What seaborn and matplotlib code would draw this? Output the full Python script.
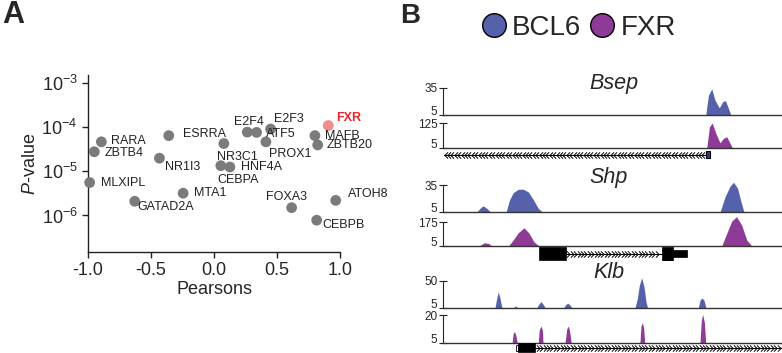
import numpy as np
import pandas as pd
import seaborn as sns
import matplotlib.pyplot as plt
from matplotlib.lines import Line2D
from matplotlib.path import Path
from matplotlib.patches import Rectangle

sns.set_style('ticks')
plt.rcParams['font.family'] = ['Liberation Sans', 'DejaVu Sans']
plt.rcParams['mathtext.fontset'] = 'custom'
plt.rcParams['mathtext.rm'] = 'Liberation Sans'
plt.rcParams['mathtext.it'] = 'Liberation Sans:italic'
plt.rcParams['mathtext.default'] = 'regular'

# ---- panel A: correlation vs p-value ----
genes = ['FXR', 'E2F3', 'E2F4', 'ATF5', 'MAFB', 'ZBTB20', 'PROX1', 'ESRRA', 'NR3C1',
         'HNF4A', 'CEBPA', 'RARA', 'ZBTB4', 'NR1I3', 'MLXIPL', 'MTA1', 'GATAD2A',
         'FOXA3', 'ATOH8', 'CEBPB']
pearson = [0.907, 0.449, 0.264, 0.338, 0.801, 0.823, 0.412, -0.359, 0.078,
           0.126, 0.054, -0.894, -0.950, -0.433, -0.987, -0.245, -0.629,
           0.616, 0.966, 0.815]
pvalue = [1.1e-4, 9.2e-5, 7.8e-5, 7.7e-5, 6.5e-5, 4.0e-5, 4.7e-5, 6.5e-5, 4.3e-5,
          1.26e-5, 1.35e-5, 4.7e-5, 2.8e-5, 2.0e-5, 5.6e-6, 3.2e-6, 2.1e-6,
          1.5e-6, 2.2e-6, 7.8e-7]
ytick_vals = [1e-6, 1e-5, 1e-4, 1e-3]
ytick_labels = ['$10^{-6}$', '$10^{-5}$', '$10^{-4}$', '$10^{-3}$']
xtick_vals = [-1.0, -0.5, 0.0, 0.5, 1.0]

# label placement (pixels from point, alignment)
label_pos = {
    'FXR': (8, 8, 'left'), 'E2F3': (3, 10, 'left'), 'E2F4': (2, 10, 'center'),
    'ATF5': (9, -2, 'left'), 'MAFB': (10, 0, 'left'), 'ZBTB20': (9, 0, 'left'),
    'PROX1': (3, -12, 'left'), 'ESRRA': (14, 2, 'left'), 'NR3C1': (-7, -13, 'left'),
    'HNF4A': (11, 0, 'left'), 'CEBPA': (-3, -14, 'left'), 'RARA': (10, 1, 'left'),
    'ZBTB4': (10, -1, 'left'), 'NR1I3': (6, -9, 'left'), 'MLXIPL': (11, 0, 'left'),
    'MTA1': (11, 0, 'left'), 'GATAD2A': (3, -6, 'left'), 'FOXA3': (-26, 11, 'left'),
    'ATOH8': (12, 6, 'left'), 'CEBPB': (6, -5, 'left'),
}

# ---- panel B: ChIP-seq tracks (x in % of window, y signal) ----
bsep_bcl6_x = [0, 77.5, 78.3, 79.3, 80.2, 81.5, 82.5, 83.3, 84.2, 84.9, 100]
bsep_bcl6_y = [5, 5, 27, 34, 21.7, 13, 19.8, 21, 12.4, 5, 5]
bsep_fxr_x = [0, 77.8, 78.6, 79.4, 80.5, 81.7, 82.7, 83.7, 84.7, 85.4, 100]
bsep_fxr_y = [5, 5, 107, 125, 75, 30, 51, 59, 27, 5, 5]

shp_bcl6_x = [0, 9.9, 11.2, 11.9, 12.9, 14.1,
              18.6, 19.6, 20.7, 22.2, 23.7, 25.2, 26.7, 28.1, 29.4,
              81.7, 83.2, 84.7, 85.7, 86.9, 87.9, 88.8, 100]
shp_bcl6_y = [5, 5, 10.5, 12, 9.4, 5,
              5, 18.5, 26.5, 30.3, 30.3, 27.3, 18.5, 9.4, 5,
              5, 22, 34, 38, 31.4, 16.7, 5, 5]
shp_fxr_x = [0, 10.7, 12.1, 13.4, 14.4,
             19.3, 20.7, 22.2, 23.9, 25.4, 26.8, 28.3,
             82.2, 83.7, 85.2, 86.6, 88.1, 89.6, 91.1, 100]
shp_fxr_y = [5, 5, 28, 24, 5,
             5, 48, 100, 136, 96, 36, 5,
             5, 96, 185, 215, 155, 48, 5, 5]

klb_bcl6_x = [0, 15.3, 15.8, 16.3, 16.8, 17.4,
              19.3, 19.6, 20.0, 20.8, 21.4, 22.1,
              27.6, 28.3, 28.9, 29.6, 30.2,
              35.5, 36.2, 36.8, 37.5, 38.1,
              56.6, 57.3, 57.9, 58.6, 59.3, 59.9, 60.4,
              75.3, 75.8, 76.4, 77.0, 77.6, 100]
klb_bcl6_y = [5, 5, 20, 32, 22, 5,
              5, 6.5, 5, 5, 9.3, 5,
              5, 12, 15.9, 11, 5,
              5, 11, 13.5, 10, 5,
              5, 20, 42, 55, 40, 15, 5,
              5, 18, 22, 18, 5, 5]
klb_fxr_x = [0, 20.4, 20.7, 21.1, 21.5, 21.9,
             28.1, 28.4, 28.9, 29.3, 29.5,
             36.0, 36.5, 36.9, 37.3, 37.8,
             58.1, 58.4, 58.8, 59.2, 59.5,
             75.8, 76.2, 76.6, 77.1, 77.5, 100]
klb_fxr_y = [5, 5, 10, 11, 9, 5,
             5, 12, 14, 12, 5,
             5, 12.5, 14, 12, 5,
             5, 14, 15.8, 13, 5,
             5, 17, 20.4, 16, 5, 5]

bcl6_color = '#5661AB'
fxr_color = '#8E3B97'

W, H = 782, 353
fig = plt.figure(figsize=(W / 100, H / 100), dpi=100)


def rect(left, top, right, bottom):
    return [left / W, 1 - bottom / H, (right - left) / W, (bottom - top) / H]


# ---------- panel A ----------
df = pd.DataFrame({'gene': genes, 'r': pearson, 'p': pvalue})
df['is_fxr'] = df['gene'] == 'FXR'
ax = fig.add_axes(rect(88, 75, 340, 252))
sns.scatterplot(data=df[~df['is_fxr']], x='r', y='p', color='#7b7b7b', s=60,
                edgecolor='none', ax=ax, clip_on=False, zorder=3)
sns.scatterplot(data=df[df['is_fxr']], x='r', y='p', color='#f08c8c', s=60,
                edgecolor='none', ax=ax, clip_on=False, zorder=3)
ax.set_yscale('log')
ax.set_ylim(10 ** -6.83, 10 ** -2.81)
ax.set_xlim(-1.0, 1.0)
ax.set_yticks(ytick_vals)
ax.set_yticklabels(ytick_labels)
ax.yaxis.set_minor_locator(plt.NullLocator())
ax.set_xticks(xtick_vals)
ax.set_xticklabels([f'{v:.1f}' for v in xtick_vals])
ax.tick_params(axis='both', labelsize=13, length=4, width=1, color='#222222')
ax.tick_params(axis='x', pad=3)
ax.set_xlabel('Pearsons', fontsize=13, labelpad=2)
ax.set_ylabel(r'$\mathit{P}$-value', fontsize=13, labelpad=2)
sns.despine(ax=ax)
for sp in ('left', 'bottom'):
    ax.spines[sp].set_linewidth(1)
    ax.spines[sp].set_color('#222222')

for g, r, p in zip(genes, pearson, pvalue):
    dx, dy, ha = label_pos[g]
    if g == 'FXR':
        ax.annotate(g, (r, p), xytext=(dx, dy), textcoords='offset pixels',
                    ha=ha, va='center', fontsize=9, color='#e8262b', fontweight='bold')
    else:
        ax.annotate(g, (r, p), xytext=(dx, dy), textcoords='offset pixels',
                    ha=ha, va='center', fontsize=9, color='#222222')

fig.text(2 / W, 1 - 15 / H, 'A', fontsize=22, fontweight='bold', va='center', ha='left')
fig.text(400 / W, 1 - 16 / H, 'B', fontsize=20, fontweight='bold', va='center', ha='left')

# ---------- panel B ----------
handles = [Line2D([], [], ls='', marker='o', ms=17, mfc=bcl6_color, mec='black', mew=1),
           Line2D([], [], ls='', marker='o', ms=17, mfc=fxr_color, mec='black', mew=1)]
fig.legend(handles, ['BCL6', 'FXR'], loc='center', bbox_to_anchor=(578 / W, 1 - 28 / H),
           ncol=2, frameon=False, fontsize=20, handletextpad=0.15, columnspacing=0.25,
           handlelength=1.0, borderpad=0)


def track(top, bottom, xs, ys, ymax, color):
    a = fig.add_axes(rect(443, top, 782, bottom))
    a.fill_between(xs, 5, ys, color=color, lw=0, clip_on=False)
    a.set_xlim(0, 100)
    a.set_ylim(5, ymax)
    a.set_xticks([])
    a.set_yticks([5, ymax])
    a.set_yticklabels(['5', str(ymax)])
    a.tick_params(axis='y', direction='inout', length=6, width=0.8, labelsize=8.5,
                  pad=1, color='#222222')
    a.get_yticklabels()[0].set_va('baseline')
    a.patch.set_alpha(0)
    sns.despine(ax=a)
    a.spines['left'].set_linewidth(0.8)
    a.spines['bottom'].set_linewidth(1.0)
    a.spines['bottom'].set_color('#333333')
    return a


chev_left = Path([(0.5, 1), (-0.5, 0), (0.5, -1)], [Path.MOVETO, Path.LINETO, Path.LINETO])
chev_right = Path([(-0.5, 1), (0.5, 0), (-0.5, -1)], [Path.MOVETO, Path.LINETO, Path.LINETO])


def gene_axes(center):
    a = fig.add_axes(rect(443, center - 7, 782, center + 7))
    a.set_xlim(0, 100)
    a.set_ylim(-7, 7)
    a.axis('off')
    return a


# Bsep
track(88, 115, bsep_bcl6_x, bsep_bcl6_y, 35, bcl6_color)
track(123, 148, bsep_fxr_x, bsep_fxr_y, 125, fxr_color)
g = gene_axes(154.5)
g.plot([0.2, 77.6], [0, 0], color='black', lw=0.8)
cx = np.arange(0.8, 77.0, 1.0)
g.plot(cx, np.zeros(len(cx)), ls='', marker=chev_left, ms=4.5, mfc='none', mec='black', mew=0.7)
g.add_patch(Rectangle((77.5, -3.5), 1.2, 7, fc='#333a80', ec='black', lw=0.8))
fig.text(614 / W, 1 - 84 / H, 'Bsep', fontsize=15.5, style='italic', ha='center', va='center')

# Shp
track(185, 212.3, shp_bcl6_x, shp_bcl6_y, 35, bcl6_color)
track(222.3, 246, shp_fxr_x, shp_fxr_y, 175, fxr_color)
g = gene_axes(253.5)
g.plot([36, 64.6], [0, 0], color='black', lw=0.8)
cx = np.arange(37.0, 64.0, 1.0)
g.plot(cx, np.zeros(len(cx)), ls='', marker=chev_right, ms=4.5, mfc='none', mec='black', mew=0.7)
g.add_patch(Rectangle((28.3, -6.5), 8.0, 13, fc='black', ec='black', lw=0.5))
g.add_patch(Rectangle((64.6, -7), 3.2, 14, fc='black', ec='black', lw=0.5))
g.add_patch(Rectangle((67.8, -3.5), 4.2, 7, fc='black', ec='black', lw=0.5))
fig.text(609 / W, 1 - 178 / H, 'Shp', fontsize=15.5, style='italic', ha='center', va='center')

# Klb
track(280.7, 308.3, klb_bcl6_x, klb_bcl6_y, 50, bcl6_color)
track(315, 342.7, klb_fxr_x, klb_fxr_y, 20, fxr_color)
g = gene_axes(347.5)
g.plot([27, 100], [0, 0], color='black', lw=0.8)
cx = np.arange(28.0, 100.0, 1.0)
g.plot(cx, np.zeros(len(cx)), ls='', marker=chev_right, ms=4.5, mfc='none', mec='black', mew=0.7)
g.add_patch(Rectangle((21.4, -3), 0.8, 6, fc='white', ec='black', lw=0.6))
g.add_patch(Rectangle((22.2, -4.5), 5.0, 9, fc='black', ec='black', lw=0.5))
fig.text(609 / W, 1 - 273 / H, 'Klb', fontsize=15.5, style='italic', ha='center', va='center')

fig.savefig('out.png', dpi=100)
